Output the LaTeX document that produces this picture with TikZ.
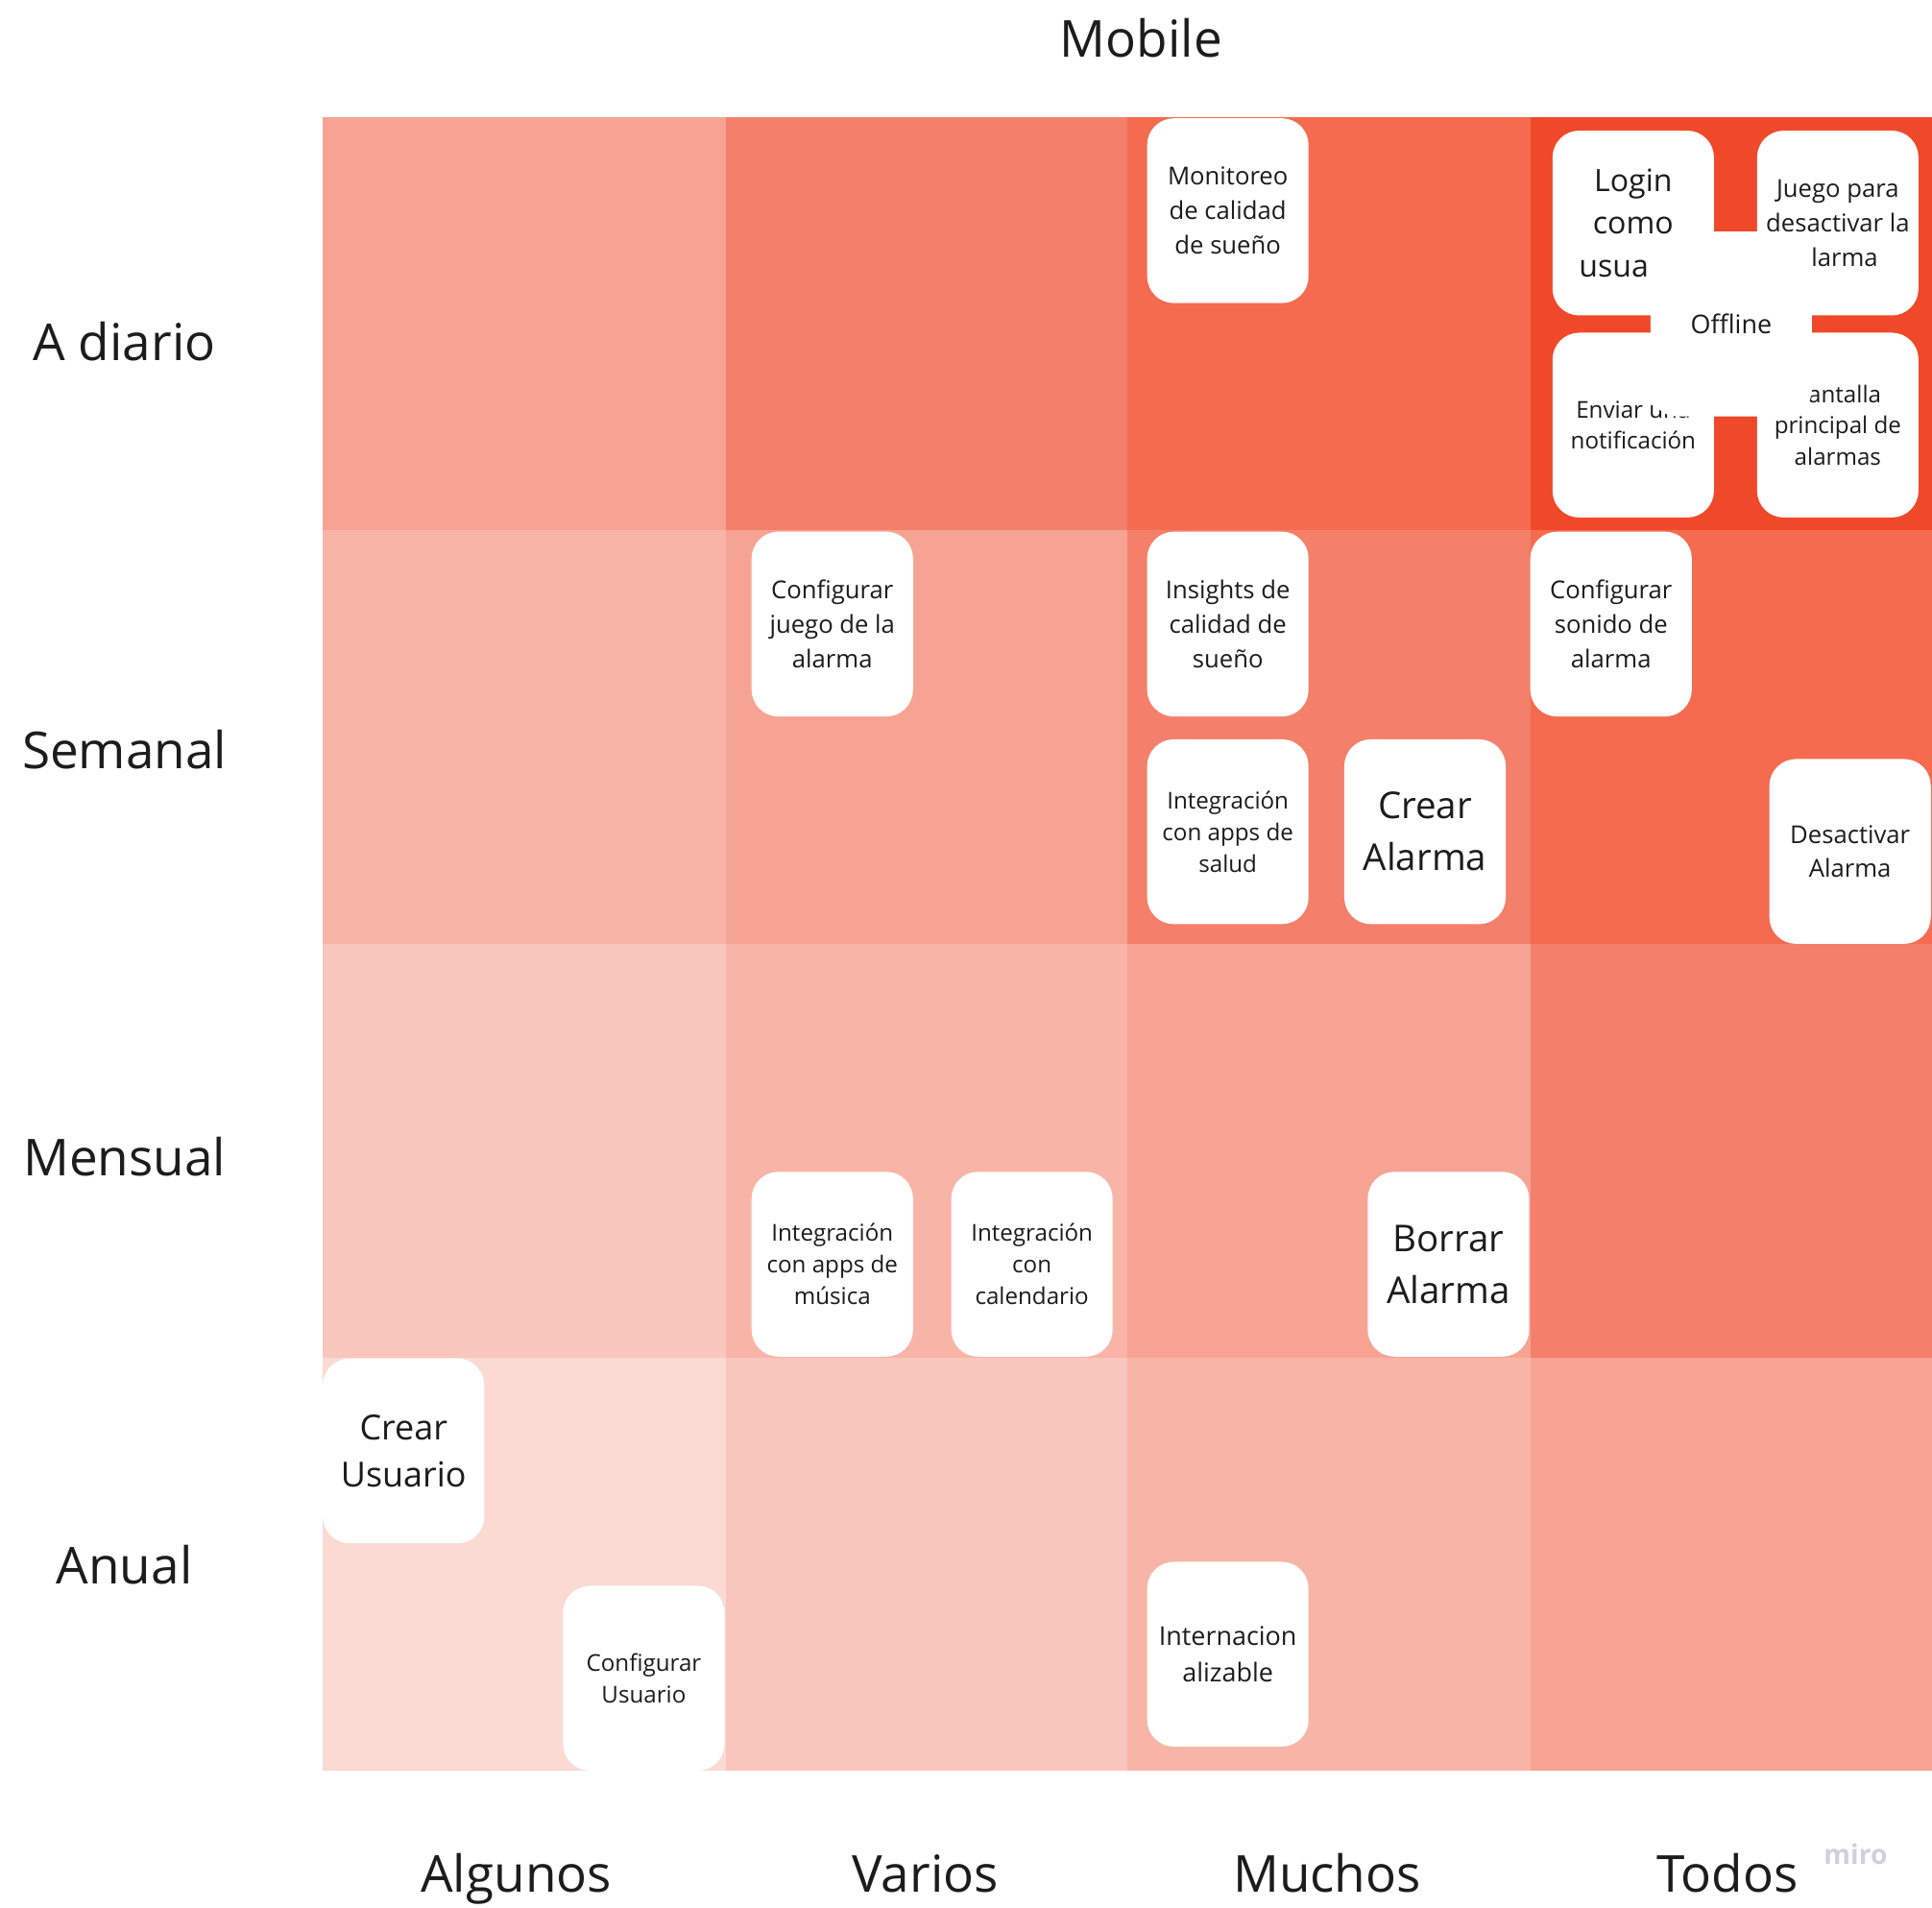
\documentclass[tikz,border=0pt]{standalone}
\usepackage{fontspec}
\setmainfont{Open Sans}
\definecolor{lvl0}{HTML}{FADAD3}
\definecolor{lvl1}{HTML}{F9C6BD}
\definecolor{lvl2}{HTML}{F8B4A7}
\definecolor{lvl3}{HTML}{F7A393}
\definecolor{lvl4}{HTML}{F47F6A}
\definecolor{lvl5}{HTML}{F46B4F}
\definecolor{lvl6}{HTML}{F0492A}
\definecolor{ink}{HTML}{1C1C1C}
\definecolor{mirogray}{HTML}{CFCFE0}

\begin{document}
\begin{tikzpicture}[x=0.6pt, y=-0.6pt]

\tikzset{card/.style = {fill=white, rounded corners=13pt, minimum width=78.6pt, minimum height=90pt, inner sep=0pt, align=center, text=ink}}
\tikzset{axis/.style = {text=ink, inner sep=0pt, font=\fontsize{24.8}{30}\selectfont}}
\tikzset{small/.style = {font=\fontsize{11.3}{15.3}\selectfont}}
\tikzset{mid/.style = {font=\fontsize{12}{16.8}\selectfont}}
\tikzset{midplus/.style = {font=\fontsize{12.6}{17.4}\selectfont}}
\tikzset{big/.style = {font=\fontsize{15}{20.7}\selectfont}}
\tikzset{bigger/.style = {font=\fontsize{16.8}{22.8}\selectfont}}
\tikzset{huge/.style = {font=\fontsize{18}{25.2}\selectfont}}

\useasboundingbox (0,0) rectangle (1568,1548.5);

% cells
\foreach \c/\xa/\xb in {0/262/589, 1/589/915, 2/915/1242, 3/1242/1568}
  \foreach \r/\ya/\yb in {0/1102/1437, 1/766/1102, 2/430/766, 3/95/430} {
    \pgfmathtruncatemacro\lv{\c+\r}
    \fill[lvl\lv] (\xa,\ya) rectangle (\xb,\yb);
  }

% labels
\node[axis] (mobile) at (926,31) {Mobile};
\node[axis] (diario) at (101,277) {A diario};
\node[axis] (semanal) at (101,608) {Semanal};
\node[axis] (mensual) at (101,939) {Mensual};
\node[axis] (anual) at (101,1270) {Anual};
\node[axis, anchor=base] (algunos) at (419,1536) {Algunos};
\node[axis, anchor=base] (varios) at (751,1536) {Varios};
\node[axis, anchor=base] (muchos) at (1077,1536) {Muchos};
\node[axis, anchor=base] (todos) at (1402,1536) {Todos};
\node[text=mirogray, inner sep=0pt, font=\fontsize{13.2}{16}\selectfont\bfseries] (miro) at (1506,1505) {miro};

% cards
\node[card, mid] (monitoreo) at (996.5,171) {Monitoreo\\de calidad\\de sueño};
\node[card, big] (login) at (1325.5,181) {Login\\como\\usua\phantom{rio}};
\node[card, mid] (juego) at (1491.5,181) {Juego para\\desactivar la\\\phantom{a}larma};
\node[card, small] (enviar) at (1325.5,345) {Enviar una\\notificación};
\node[card, small] (pantalla) at (1491.5,345) {\phantom{P}antalla\\principal de\\alarmas};
\node[card, midplus] (offline) at (1405,263) {Offline};
\node[card, mid] (confjuego) at (675.5,506.5) {Configurar\\juego de la\\alarma};
\node[card, mid] (insights) at (996.5,506.5) {Insights de\\calidad de\\sueño};
\node[card, mid] (confsonido) at (1307.5,506.5) {Configurar\\sonido de\\alarma};
\node[card, small] (salud) at (996.5,675) {Integración\\con apps de\\salud};
\node[card, huge] (crearalarma) at (1156.5,675) {Crear\\Alarma};
\node[card, mid] (desactivar) at (1501.5,691) {Desactivar\\Alarma};
\node[card, small] (musica) at (675.5,1026) {Integración\\con apps de\\música};
\node[card, small] (calendario) at (837.5,1026) {Integración\\con\\calendario};
\node[card, huge] (borrar) at (1175.5,1026) {Borrar\\Alarma};
\node[card, bigger] (crearusuario) at (327.5,1177.5) {Crear\\Usuario};
\node[card, small] (confusuario) at (522.5,1362) {Configurar\\Usuario};
\node[card, midplus] (internacion) at (996.5,1342.5) {Internacion\\alizable};

\end{tikzpicture}
\end{document}
